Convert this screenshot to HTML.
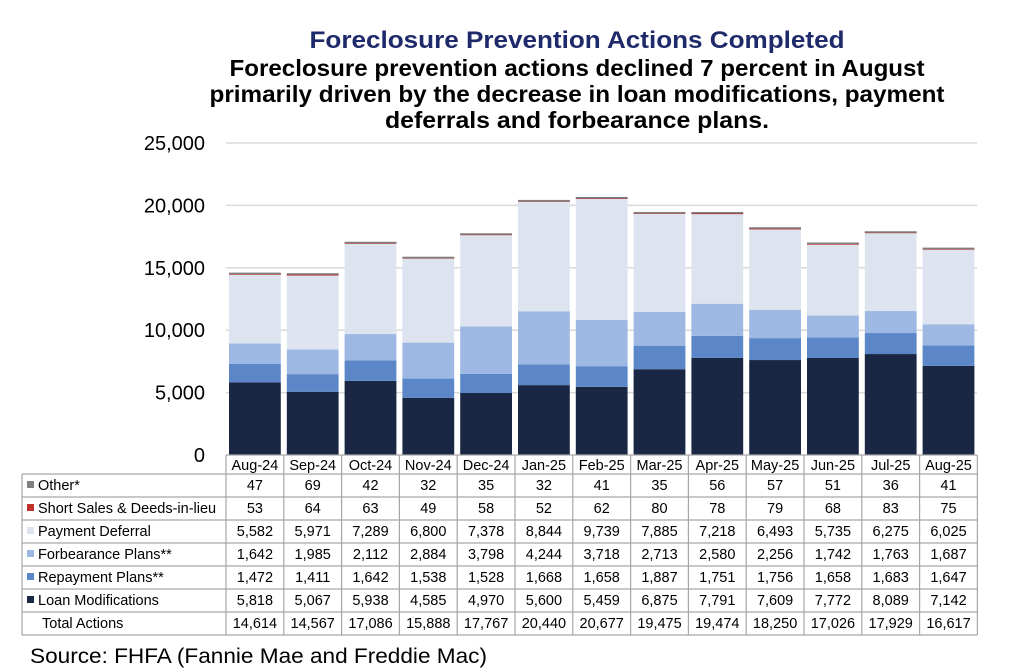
<!DOCTYPE html>
<html><head><meta charset="utf-8"><style>
body{margin:0;background:#fff;width:1024px;height:672px;overflow:hidden;font-family:"Liberation Sans",Arial,sans-serif}
svg{position:absolute;left:0;top:0}
</style></head><body>
<svg id="s" width="1024" height="672" xmlns="http://www.w3.org/2000/svg" font-family="Liberation Sans, Arial, sans-serif"></svg>
<script>
const months=["Aug-24","Sep-24","Oct-24","Nov-24","Dec-24","Jan-25","Feb-25","Mar-25","Apr-25","May-25","Jun-25","Jul-25","Aug-25"];
const rows=[
["Other*","#7f7f7f",[47,69,42,32,35,32,41,35,56,57,51,36,41]],
["Short Sales & Deeds-in-lieu","#c0302d",[53,64,63,49,58,52,62,80,78,79,68,83,75]],
["Payment Deferral","#dde4ef",[5582,5971,7289,6800,7378,8844,9739,7885,7218,6493,5735,6275,6025]],
["Forbearance Plans**","#9db8e2",[1642,1985,2112,2884,3798,4244,3718,2713,2580,2256,1742,1763,1687]],
["Repayment Plans**","#5b87c8",[1472,1411,1642,1538,1528,1668,1658,1887,1751,1756,1658,1683,1647]],
["Loan Modifications","#1a2744",[5818,5067,5938,4585,4970,5600,5459,6875,7791,7609,7772,8089,7142]]];
const totals=[14614,14567,17086,15888,17767,20440,20677,19475,19474,18250,17026,17929,16617];
let h='';
const x0=226,cw=57.8,y0=455,k=312/25000;
h+=`<text x="577" y="48" text-anchor="middle" font-size="24" font-weight="bold" fill="#1f2a6b" textLength="535" lengthAdjust="spacingAndGlyphs">Foreclosure Prevention Actions Completed</text>`;
[["Foreclosure prevention actions declined 7 percent in August",695],["primarily driven by the decrease in loan modifications, payment",735],["deferrals and forbearance plans.",384]].forEach((t,i)=>h+=`<text x="577" y="${76+i*26}" text-anchor="middle" font-size="23" font-weight="bold" fill="#000" textLength="${t[1]}" lengthAdjust="spacingAndGlyphs">${t[0]}</text>`);
for(let i=0;i<=5;i++){const y=y0-i*5000*k;
 if(i>0)h+=`<line x1="${x0}" x2="977" y1="${y}" y2="${y}" stroke="#d9d9d9" stroke-width="1.5"/>`;
 h+=`<text x="205" y="${y+7}" text-anchor="end" font-size="20" fill="#000">${i==0?'0':(i*5).toLocaleString('en-US')+',000'}</text>`;}
for(let j=0;j<13;j++){let y=y0;const bx=x0+j*cw+3,bw=cw-6;
 for(let r=5;r>=0;r--){const v=rows[r][2][j],hh=v*k;y-=hh;
  h+=`<rect x="${bx}" y="${y}" width="${bw}" height="${Math.max(hh,r<2?1.5:0)}" fill="${rows[r][1]}"/>`;}}
const ly=[455,474,497,520,543,566,589,612,635];
h+=`<g stroke="#a6a6a6" stroke-width="1.2" fill="none">`;
for(let i=0;i<ly.length;i++){h+=`<line x1="${i==0?x0:22}" x2="977" y1="${ly[i]}" y2="${ly[i]}"/>`;}
h+=`<line x1="22" x2="22" y1="474" y2="635"/>`;
for(let j=0;j<=13;j++)h+=`<line x1="${x0+j*cw}" x2="${x0+j*cw}" y1="455" y2="635"/>`;
h+='</g>';
months.forEach((m,j)=>h+=`<text x="${x0+j*cw+cw/2}" y="470" text-anchor="middle" font-size="14.5">${m}</text>`);
rows.forEach((r,i)=>{const cy=ly[i+1]+16;
 h+=`<rect x="27" y="${cy-9}" width="7" height="7" fill="${r[1]}"/><text x="38" y="${cy}" font-size="14.5">${r[0]}</text>`;
 r[2].forEach((v,j)=>h+=`<text x="${x0+j*cw+cw/2}" y="${cy}" text-anchor="middle" font-size="14.5">${v.toLocaleString('en-US')}</text>`);});
h+=`<text x="42" y="628" font-size="14.5">Total Actions</text>`;
totals.forEach((v,j)=>h+=`<text x="${x0+j*cw+cw/2}" y="628" text-anchor="middle" font-size="14.5">${v.toLocaleString('en-US')}</text>`);
h+=`<text x="30" y="663" font-size="21" textLength="457" lengthAdjust="spacingAndGlyphs">Source: FHFA (Fannie Mae and Freddie Mac)</text>`;
document.getElementById('s').innerHTML=h;
</script>
</body></html>
